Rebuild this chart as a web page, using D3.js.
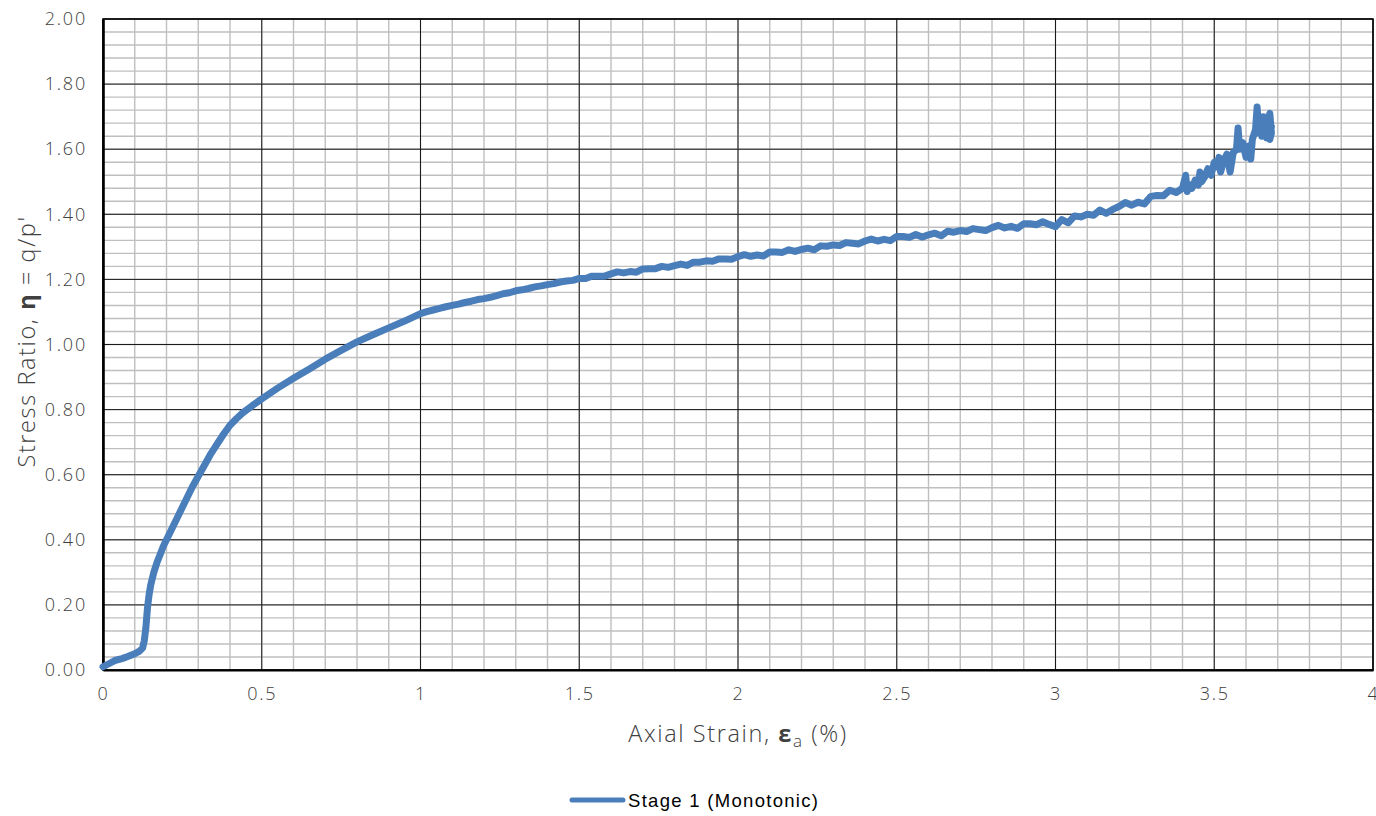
<!DOCTYPE html>
<html>
<head>
<meta charset="utf-8">
<script src="https://cdn.jsdelivr.net/npm/d3@7"></script>
<style>
  html, body { margin: 0; padding: 0; background: #fff; }
  svg { display: block; }
  .tick-label { font-family: "Open Sans", "DejaVu Sans", sans-serif; font-weight: 300; fill: #404040; font-size: 18px; letter-spacing: 1.8px; }
  .axis-title { font-family: "Open Sans", "DejaVu Sans", sans-serif; font-weight: 300; fill: #404040; font-size: 23.5px; letter-spacing: 1.6px; }
  .legend-text { font-family: "Liberation Sans", Arial, sans-serif; fill: #000; font-size: 18.5px; letter-spacing: 1.3px; }
</style>
</head>
<body>
<svg id="chart" width="1376" height="816"></svg>
<script>
// Axial strain (%) for the monotonic loading stage
const strain = [
  0.00, 0.02, 0.04, 0.06, 0.08, 0.10, 0.115, 0.125,
  0.13, 0.135, 0.14, 0.145, 0.15, 0.16, 0.17, 0.18, 0.19, 0.20, 0.22, 0.24, 0.26, 0.28,
  0.30, 0.32, 0.34, 0.36, 0.38, 0.40, 0.42, 0.44, 0.47, 0.50, 0.55, 0.60, 0.65, 0.70,
  0.75, 0.80, 0.85, 0.90, 0.95,
  1.00, 1.02, 1.04, 1.06, 1.08, 1.10, 1.12, 1.14, 1.16, 1.18, 1.20, 1.22, 1.24, 1.26, 1.28,
  1.30, 1.32, 1.34, 1.36, 1.38, 1.40, 1.42, 1.44, 1.46, 1.48, 1.50, 1.52, 1.54, 1.56, 1.58,
  1.60, 1.62, 1.64, 1.66, 1.68, 1.70, 1.72, 1.74, 1.76, 1.78, 1.80, 1.82, 1.84, 1.86, 1.88,
  1.90, 1.92, 1.94, 1.96, 1.98, 2.00, 2.02, 2.04, 2.06, 2.08, 2.10, 2.12, 2.14, 2.16, 2.18,
  2.20, 2.22, 2.24, 2.26, 2.28, 2.30, 2.32, 2.34, 2.36, 2.38, 2.40, 2.42, 2.44, 2.46, 2.48,
  2.50, 2.52, 2.54, 2.56, 2.58, 2.60, 2.62, 2.64, 2.66, 2.68, 2.70, 2.72, 2.74, 2.76, 2.78,
  2.80, 2.82, 2.84, 2.86, 2.88, 2.90, 2.92, 2.94, 2.96, 2.98, 3.00, 3.02, 3.04, 3.06, 3.08,
  3.10, 3.12, 3.14, 3.16, 3.18, 3.20, 3.22, 3.24, 3.26, 3.28, 3.30, 3.32, 3.34, 3.36, 3.38,
  3.40, 3.41, 3.415, 3.42, 3.43, 3.44, 3.45, 3.455, 3.46, 3.47, 3.48, 3.49, 3.50, 3.51, 3.515,
  3.52, 3.53, 3.54, 3.55, 3.56, 3.57, 3.575, 3.58, 3.59, 3.60, 3.61, 3.615, 3.62, 3.63, 3.635,
  3.64, 3.645, 3.65, 3.655, 3.66, 3.665, 3.67, 3.675, 3.68, 3.675, 3.68
];

// Stress ratio eta = q/p' measured at each strain value
const stressRatio = [
  0.010, 0.020, 0.030, 0.035, 0.042, 0.050, 0.058, 0.068,
  0.090, 0.130, 0.190, 0.230, 0.260, 0.300, 0.330, 0.355, 0.380, 0.400, 0.440, 0.480, 0.520, 0.560,
  0.595, 0.630, 0.665, 0.695, 0.725, 0.752, 0.772, 0.790, 0.812, 0.833, 0.866, 0.896, 0.925, 0.955,
  0.982, 1.008, 1.030, 1.051, 1.072,
  1.095, 1.101, 1.106, 1.111, 1.116, 1.120, 1.124, 1.129, 1.133, 1.138, 1.141, 1.145, 1.150, 1.156, 1.159,
  1.165, 1.168, 1.172, 1.177, 1.180, 1.184, 1.187, 1.192, 1.195, 1.197, 1.203, 1.203, 1.210, 1.210, 1.210,
  1.217, 1.223, 1.220, 1.224, 1.222, 1.232, 1.233, 1.233, 1.240, 1.237, 1.242, 1.247, 1.243, 1.253, 1.253,
  1.257, 1.256, 1.263, 1.263, 1.262, 1.270, 1.276, 1.271, 1.275, 1.272, 1.284, 1.284, 1.283, 1.291, 1.286,
  1.292, 1.296, 1.291, 1.303, 1.302, 1.306, 1.304, 1.313, 1.311, 1.309, 1.318, 1.324, 1.318, 1.323, 1.319,
  1.332, 1.332, 1.329, 1.338, 1.330, 1.337, 1.342, 1.334, 1.348, 1.345, 1.350, 1.347, 1.356, 1.353, 1.350,
  1.359, 1.366, 1.358, 1.363, 1.357, 1.371, 1.371, 1.368, 1.377, 1.369, 1.362, 1.384, 1.374, 1.395, 1.392,
  1.400, 1.397, 1.413, 1.403, 1.415, 1.424, 1.436, 1.428, 1.437, 1.432, 1.455, 1.458, 1.457, 1.474, 1.467,
  1.480, 1.520, 1.470, 1.492, 1.480, 1.505, 1.490, 1.530, 1.500, 1.515, 1.540, 1.520, 1.560, 1.545, 1.575,
  1.530, 1.565, 1.585, 1.530, 1.590, 1.600, 1.665, 1.600, 1.620, 1.575, 1.610, 1.570, 1.630, 1.660, 1.730,
  1.650, 1.700, 1.640, 1.700, 1.660, 1.635, 1.690, 1.710, 1.650, 1.630, 1.670
];

const xTicks = [0, 0.5, 1, 1.5, 2, 2.5, 3, 3.5, 4];
const yTicks = [0, 0.2, 0.4, 0.6, 0.8, 1.0, 1.2, 1.4, 1.6, 1.8, 2.0];
const seriesName = "Stage 1 (Monotonic)";

const svg = d3.select("#chart");
const plot = { left: 103, right: 1373, top: 19, bottom: 670 };

const x = d3.scaleLinear().domain([0, 4]).range([plot.left, plot.right]);
const y = d3.scaleLinear().domain([0, 2]).range([plot.bottom, plot.top]);

// Minor gridlines: every 0.1 on strain, every 0.04 on stress ratio
const xMinor = d3.range(0, 4.0001, 0.1).map(v => +v.toFixed(2));
const yMinor = d3.range(0, 2.0001, 0.04).map(v => +v.toFixed(2));

const grid = svg.append("g");
grid.selectAll("line.vminor").data(xMinor).join("line")
  .attr("x1", d => x(d)).attr("x2", d => x(d))
  .attr("y1", plot.top).attr("y2", plot.bottom)
  .attr("stroke", "#bfbfbf").attr("stroke-width", 1.4);
grid.selectAll("line.hminor").data(yMinor).join("line")
  .attr("x1", plot.left).attr("x2", plot.right)
  .attr("y1", d => y(d)).attr("y2", d => y(d))
  .attr("stroke", "#bfbfbf").attr("stroke-width", 1.4);

// Major gridlines
grid.selectAll("line.vmajor").data(xTicks).join("line")
  .attr("x1", d => x(d)).attr("x2", d => x(d))
  .attr("y1", plot.top).attr("y2", plot.bottom)
  .attr("stroke", "#1a1a1a").attr("stroke-width", 1);
grid.selectAll("line.hmajor").data(yTicks).join("line")
  .attr("x1", plot.left).attr("x2", plot.right)
  .attr("y1", d => y(d)).attr("y2", d => y(d))
  .attr("stroke", "#1a1a1a").attr("stroke-width", 1);

// Plot frame
svg.append("rect")
  .attr("x", plot.left).attr("y", plot.top)
  .attr("width", plot.right - plot.left).attr("height", plot.bottom - plot.top)
  .attr("fill", "none").attr("stroke", "#000").attr("stroke-width", 1.5);

// Axes
const xAxis = svg.append("g")
  .attr("transform", `translate(0,${plot.bottom})`)
  .call(d3.axisBottom(x).tickValues(xTicks).tickSize(0).tickPadding(17)
    .tickFormat(d => d3.format("")(d)));
xAxis.select(".domain").attr("stroke", "#000").attr("stroke-width", 2.2);
xAxis.selectAll("text").attr("class", "tick-label").attr("font-size", null).attr("font-family", null).attr("fill", null);

const yAxis = svg.append("g")
  .attr("transform", `translate(${plot.left},0)`)
  .call(d3.axisLeft(y).tickValues(yTicks).tickSize(0).tickPadding(16)
    .tickFormat(d3.format(".2f")));
yAxis.select(".domain").attr("stroke", "#000").attr("stroke-width", 2.6);
yAxis.selectAll("text").attr("class", "tick-label").attr("font-size", null).attr("font-family", null).attr("fill", null);

// Data line
const pts = strain.map((s, i) => [s, stressRatio[i]]);
const line = d3.line().x(d => x(d[0])).y(d => y(d[1]));
svg.append("path")
  .datum(pts)
  .attr("d", line)
  .attr("fill", "none")
  .attr("stroke", "#4a7ebb")
  .attr("stroke-width", 7)
  .attr("stroke-linejoin", "round")
  .attr("stroke-linecap", "round");

// Axis titles
const xt = svg.append("text").attr("class", "axis-title")
  .attr("x", (plot.left + plot.right) / 2).attr("y", 742).attr("text-anchor", "middle");
xt.append("tspan").text("Axial Strain, ");
xt.append("tspan").attr("font-weight", 700).text("ε");
xt.append("tspan").attr("font-size", "17px").attr("dy", 5).text("a");
xt.append("tspan").attr("dy", -5).text(" (%)");

const yt = svg.append("text").attr("class", "axis-title")
  .attr("transform", `translate(35,${(plot.top + plot.bottom) / 2 - 3}) rotate(-90)`)
  .attr("text-anchor", "middle");
yt.append("tspan").text("Stress Ratio, ");
yt.append("tspan").attr("font-weight", 700).text("η");
yt.append("tspan").text(" = q/p'");

// Legend
const lg = svg.append("g");
lg.append("line")
  .attr("x1", 572).attr("x2", 623).attr("y1", 800).attr("y2", 800)
  .attr("stroke", "#4a7ebb").attr("stroke-width", 5).attr("stroke-linecap", "round");
lg.append("text").attr("class", "legend-text")
  .attr("x", 628).attr("y", 807).text(seriesName);
</script>
</body>
</html>
